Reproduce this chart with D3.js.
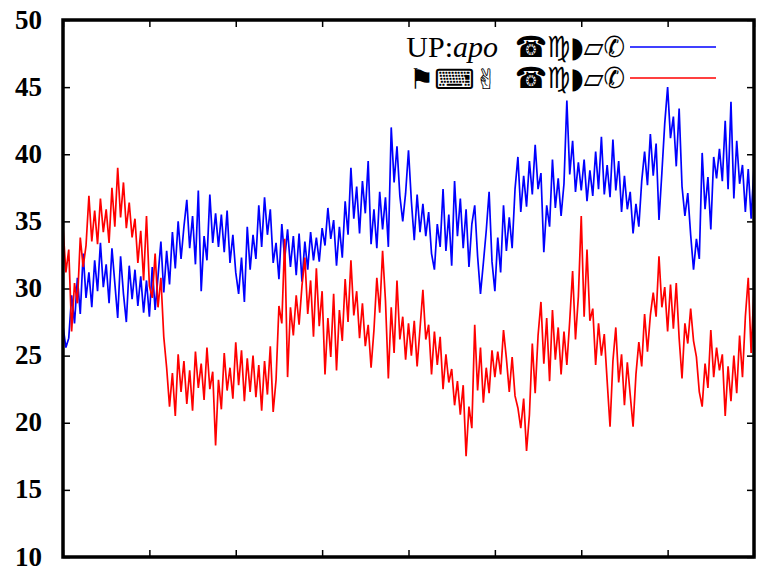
<!DOCTYPE html>
<html>
<head>
<meta charset="utf-8">
<script src="https://cdn.jsdelivr.net/npm/d3@7/dist/d3.min.js"></script>
<style>
  html, body { margin: 0; padding: 0; background: #fff; }
  svg { display: block; }
</style>
</head>
<body>
<svg id="chart" width="780" height="571"></svg>
<script>
// Energy time series for the two components (index = frame)
const upApo = [
  27.2,25.6,26.3,29.5,27.4,30.8,28.1,32.6,29.3,31.2,28.6,32.1,29.8,33.4,30.1,31.8,28.9,33.0,30.4,27.8,
  32.4,29.6,27.5,31.7,29.2,31.4,28.7,30.9,28.2,30.6,27.9,
  31.6,28.4,30.9,33.5,29.7,32.8,30.3,34.2,31.5,35.0,32.2,34.6,36.6,33.0,35.4,31.8,37.3,29.8,33.9,32.1,
  37.0,33.4,35.6,33.1,35.5,32.7,35.8,31.9,34.0,31.2,
  29.6,32.3,29.0,34.6,31.4,34.0,32.2,36.2,33.1,36.8,34.0,35.9,31.9,33.4,30.7,34.8,32.2,34.4,31.6,33.9,
  31.0,34.1,30.5,33.5,31.4,34.2,32.1,33.8,32.0,34.5,
  33.2,36.0,33.7,35.1,31.7,34.6,32.3,36.5,34.0,39.0,35.2,37.6,34.1,38.0,35.6,39.5,33.3,35.9,33.0,37.2,
  34.4,36.8,33.1,42.0,37.9,40.6,36.9,35.0,37.1,40.3,
  36.5,33.6,37.0,34.2,36.3,33.9,35.7,32.6,31.4,34.8,33.1,37.4,32.8,35.5,31.7,38.0,33.9,36.7,33.0,35.9,
  31.6,34.8,36.2,32.4,29.6,31.9,34.3,37.2,32.0,29.8,
  33.8,31.2,36.2,32.8,35.3,33.0,37.4,39.8,35.7,38.4,36.1,39.5,37.0,40.7,37.4,38.6,32.7,36.2,34.6,39.6,
  36.0,38.2,35.4,37.8,44.0,38.5,41.0,37.2,39.4,37.3,
  39.6,36.5,38.8,36.9,40.2,37.4,41.3,37.0,39.2,36.8,41.1,37.3,39.5,35.7,38.4,35.9,37.2,34.1,36.3,34.6,
  38.0,40.2,37.7,41.5,38.4,40.8,35.1,38.6,42.3,45.0,
  41.2,42.8,39.1,43.4,37.6,35.4,37.1,34.0,31.4,33.7,32.2,40.1,35.9,38.3,34.4,39.8,38.2,40.4,38.0,42.5,
  37.4,43.9,36.7,41.0,37.8,39.2,35.7,38.9,35.2,39.0
];

const pepUp = [
  34.6,31.2,32.9,26.8,30.4,28.9,33.8,31.6,33.2,36.9,33.5,35.8,33.3,36.7,34.2,35.9,33.4,37.5,34.6,39.0,
  35.3,37.9,34.5,36.4,33.8,35.2,31.9,34.3,30.6,35.4,30.2,
  29.3,32.6,28.6,30.8,26.4,24.1,21.2,23.7,20.5,25.1,22.3,24.6,21.4,23.9,20.9,25.3,22.6,24.4,21.7,25.6,
  22.5,23.8,18.3,23.2,21.0,25.2,22.4,24.1,21.8,26.0,
  22.8,25.4,21.6,24.8,22.3,25.0,21.9,24.3,20.9,24.6,22.1,25.7,20.8,23.2,28.7,27.4,33.7,23.4,28.6,26.5,
  29.5,27.3,30.2,32.3,28.1,30.6,26.4,31.5,27.2,29.8,
  23.6,27.8,24.9,29.6,23.9,28.4,26.1,30.7,27.5,32.1,28.0,29.8,26.3,28.9,25.7,27.3,24.1,26.9,30.8,28.2,
  32.8,29.1,23.3,28.6,25.2,30.6,26.2,27.9,24.7,27.4,
  25.0,27.6,24.2,27.0,29.9,26.2,27.3,23.6,26.8,24.3,26.4,22.5,25.1,23.0,24.0,21.3,23.1,20.6,22.8,17.5,
  21.2,19.6,27.3,22.4,25.6,21.5,24.1,22.2,25.4,23.4,
  25.3,23.6,26.9,24.8,22.3,24.9,22.0,21.1,19.6,21.8,17.9,20.6,25.9,22.2,26.5,29.0,24.4,27.8,23.1,28.4,
  24.7,27.1,23.6,26.8,24.3,27.6,31.3,26.2,29.4,35.4,
  27.9,32.9,27.6,28.5,24.3,27.4,25.0,26.6,23.1,19.7,24.6,27.1,23.0,25.1,21.3,24.5,22.1,19.7,23.6,26.0,
  24.2,28.1,25.3,28.0,29.7,27.9,32.4,28.6,30.1,26.8,
  30.3,27.0,30.4,26.3,23.3,27.4,25.9,28.5,26.1,24.9,22.3,21.2,24.4,22.6,26.9,23.4,25.6,23.9,25.1,20.5,
  24.2,21.6,25.0,22.2,26.5,23.4,27.9,30.8,25.2,29.9
];

const yTicks = [10, 15, 20, 25, 30, 35, 40, 45, 50];
const xTickStep = 30;
const unitGlyphs = "\u260E\u264D\u25D7\u25B1\u2706";
const legendNames = [
  { prefix: [{ t: "UP:", i: false }, { t: "apo", i: true }], color: "#0000ff" },
  { prefix: [{ t: "\u2691\u2328\u270C", i: false, sym: true }], color: "#ff0000" }
];

const svg = d3.select("#chart");
const margin = { left: 63, right: 26, top: 20, bottom: 14 };
const W = 780, H = 571;
const x0 = margin.left, x1 = W - margin.right, y0 = H - margin.bottom, y1 = margin.top;

const n = upApo.length;
const x = d3.scaleLinear().domain([0, n - 1]).range([x0, x1]);
const y = d3.scaleLinear().domain([10, 50]).range([y0, y1]);

const xTicks = d3.range(0, n, xTickStep);

// inward ticks on all four sides
function styleAxis(g) {
  g.select(".domain").remove();
  g.selectAll(".tick line").attr("stroke", "#000").attr("stroke-width", 1.5);
}
svg.append("g").attr("transform", `translate(0,${y0})`)
  .call(d3.axisBottom(x).tickValues(xTicks).tickSizeInner(-7).tickSizeOuter(0).tickFormat(""))
  .call(styleAxis);
svg.append("g").attr("transform", `translate(0,${y1})`)
  .call(d3.axisTop(x).tickValues(xTicks).tickSizeInner(-7).tickSizeOuter(0).tickFormat(""))
  .call(styleAxis);
svg.append("g").attr("transform", `translate(${x1},0)`)
  .call(d3.axisRight(y).tickValues(yTicks).tickSizeInner(-7).tickSizeOuter(0).tickFormat(""))
  .call(styleAxis);
const yAxis = svg.append("g").attr("transform", `translate(${x0},0)`)
  .call(d3.axisLeft(y).tickValues(yTicks).tickSizeInner(-7).tickSizeOuter(0).tickPadding(21).tickFormat(d3.format("d")))
  .call(styleAxis);
yAxis.selectAll(".tick text")
  .attr("fill", "#000")
  .attr("dy", "0.3em")
  .style("font-family", "'Liberation Serif', 'Times New Roman', serif")
  .style("font-size", "27px")
  .style("font-weight", "bold");

// series
const line = d3.line().x((d, i) => x(i)).y(d => y(d));
svg.append("clipPath").attr("id", "plotclip")
  .append("rect").attr("x", x0).attr("y", y1).attr("width", x1 - x0).attr("height", y0 - y1);
[{ data: upApo, color: "#0000ff" }, { data: pepUp, color: "#ff0000" }].forEach(s => {
  svg.append("path")
    .datum(s.data)
    .attr("clip-path", "url(#plotclip)")
    .attr("fill", "none")
    .attr("stroke", s.color)
    .attr("stroke-width", 1.7)
    .attr("stroke-linejoin", "miter")
    .attr("d", line);
});

// legend
const legX = 625, lineX0 = 630, lineX1 = 716;
const legY = [47, 78];
legendNames.forEach((L, k) => {
  const cy = legY[k];
  const pre = svg.append("text")
    .attr("x", 498).attr("y", cy + 10)
    .attr("text-anchor", "end")
    .attr("fill", "#000");
  L.prefix.forEach(p => {
    const ts = pre.append("tspan")
      .text(p.t)
      .style("font-family", p.sym ? "'DejaVu Sans', sans-serif" : "'Liberation Serif', 'Times New Roman', serif")
      .style("font-size", p.sym ? "28px" : "30px")
      .style("font-style", p.i ? "italic" : "normal");
    if (p.sym) ts.attr("dy", 1);
  });
  svg.append("text")
    .attr("x", legX).attr("y", cy + 10)
    .attr("text-anchor", "end")
    .attr("textLength", 110)
    .attr("lengthAdjust", "spacingAndGlyphs")
    .attr("fill", "#000")
    .style("font-family", "'DejaVu Sans', sans-serif")
    .style("font-size", "29px")
    .text(unitGlyphs);
  svg.append("line")
    .attr("x1", lineX0).attr("x2", lineX1)
    .attr("y1", cy).attr("y2", cy)
    .attr("stroke", L.color).attr("stroke-width", 1.5);
});

// frame
svg.append("rect")
  .attr("x", x0).attr("y", y1)
  .attr("width", x1 - x0).attr("height", y0 - y1)
  .attr("fill", "none").attr("stroke", "#000").attr("stroke-width", 3.5);
</script>
</body>
</html>
